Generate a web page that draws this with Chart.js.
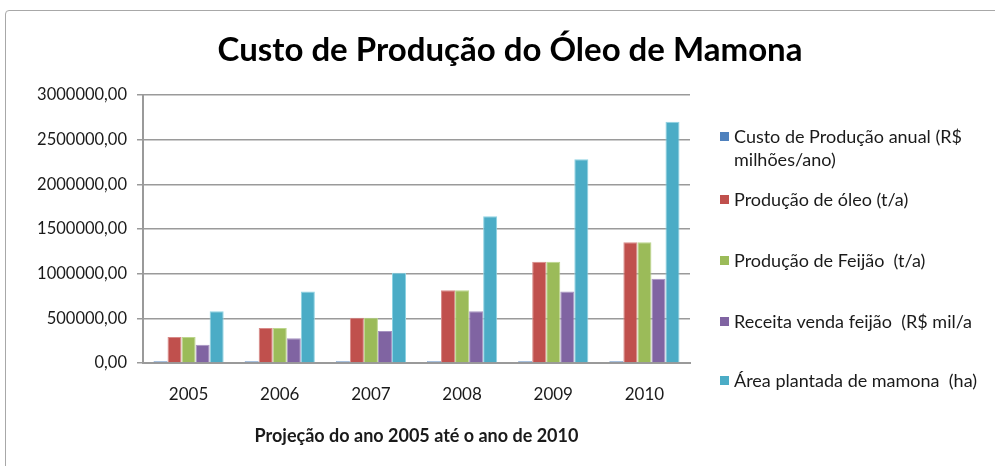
<!DOCTYPE html>
<html>
<head>
<meta charset="utf-8">
<script src="https://cdn.jsdelivr.net/npm/chart.js@4/dist/chart.umd.min.js"></script>
<style>
  html, body { margin: 0; padding: 0; background: #fff; }
  #wrap { position: relative; width: 995px; height: 466px; overflow: hidden; }
  #frame { position: absolute; left: 5px; top: 10px; width: 1010px; height: 480px;
           border: 1px solid #a8a8a8; border-radius: 4px; box-sizing: border-box; }
  #grafico { position: absolute; left: 0; top: 0; }
</style>
</head>
<body>
<div id="wrap">
  <div id="frame"></div>
  <canvas id="grafico" width="995" height="466"></canvas>
</div>
<script>
var anos = ['2005', '2006', '2007', '2008', '2009', '2010'];

var custoProducao = [20000, 20000, 20000, 20000, 20000, 20000];
var producaoOleo = [291000, 392000, 507000, 813000, 1134000, 1351000];
var producaoFeijao = [291000, 392000, 507000, 813000, 1134000, 1351000];
var receitaFeijao = [205000, 276000, 358000, 578000, 799000, 944000];
var areaPlantada = [578000, 799000, 1011000, 1642000, 2280000, 2701000];

var nomesSeries = [
  ['Custo de Produção anual (R$', 'milhões/ano)'],
  ['Produção de óleo (t/a)'],
  ['Produção de Feijão  (t/a)'],
  ['Receita venda feijão  (R$ mil/a'],
  ['Área plantada de mamona  (ha)']
];

var titulo = 'Custo de Produção do Óleo de Mamona';
var tituloEixoX = 'Projeção do ano 2005 até o ano de 2010';

var cores = ['#4F81BD', '#C0504D', '#9BBB59', '#8064A2', '#4BACC6'];
var bordas = ['#4F81BD', '#d88a88', '#bcd68c', '#a793c2', '#8fd3e3'];

var fonte = "'Lato', 'Open Sans', sans-serif";

// titulo e legenda desenhados a mao para imitar o Excel
var extrasExcel = {
  id: 'extrasExcel',
  afterDraw: function (chart) {
    var c = chart.ctx;
    c.save();
    c.fillStyle = '#000';
    c.font = 'bold 33px ' + fonte;
    c.textAlign = 'center';
    c.textBaseline = 'middle';
    c.fillText(titulo, 510, 50);

    var linhas = [137, 200, 261, 322, 381];
    c.font = '18px ' + fonte;
    c.textAlign = 'left';
    chart.data.datasets.forEach(function (ds, i) {
      var y = linhas[i];
      c.fillStyle = ds.backgroundColor;
      c.fillRect(720, y - 5, 9, 9);
      c.fillStyle = '#1a1a1a';
      ds.nome.forEach(function (t, j) {
        c.fillText(t, 734, y + j * 23);
      });
    });
    c.restore();
  }
};

var series = [custoProducao, producaoOleo, producaoFeijao, receitaFeijao, areaPlantada];

var data = {
  labels: anos,
  datasets: series.map(function (s, i) {
    return {
      label: nomesSeries[i].join(' '),
      nome: nomesSeries[i],
      data: s,
      backgroundColor: cores[i],
      borderColor: bordas[i],
      borderWidth: 1,
      barPercentage: 1,
      categoryPercentage: 0.77
    };
  })
};

var options = {
  responsive: false,
  animation: false,
  layout: { padding: { left: 0, right: 305, top: 95, bottom: 19 } },
  plugins: {
    legend: { display: false },
    tooltip: { enabled: false },
    title: { display: false }
  },
  scales: {
    x: {
      grid: { display: false },
      border: { display: true, color: '#9a9a9a', width: 2 },
      ticks: { color: '#1a1a1a', font: { family: fonte, size: 17 }, padding: 13 },
      title: {
        display: true,
        text: tituloEixoX,
        color: '#1a1a1a',
        font: { family: fonte, size: 18, weight: 'bold' },
        padding: { top: 8, bottom: 0 }
      }
    },
    y: {
      min: 0,
      max: 3000000,
      ticks: {
        stepSize: 500000,
        color: '#1a1a1a',
        font: { family: fonte, size: 16.5 },
        padding: 10,
        callback: function (v) { return v.toFixed(2).replace('.', ','); }
      },
      grid: { color: '#9a9a9a', lineWidth: 1.5, tickLength: 6 },
      border: { display: true, color: '#9a9a9a', width: 2 },
      afterFit: function (scale) { scale.width = 143; }
    }
  }
};

var ctx = document.getElementById('grafico').getContext('2d');
var grafico = new Chart(ctx, {
  type: 'bar',
  data: data,
  options: options,
  plugins: [extrasExcel]
});
</script>
</body>
</html>
